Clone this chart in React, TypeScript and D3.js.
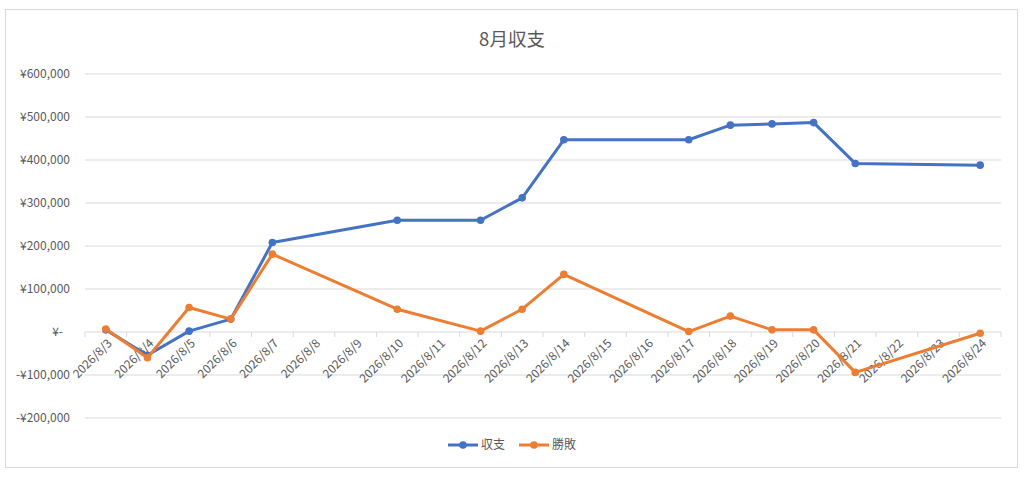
import React from "react";
import * as d3 from "d3";

const categories = [
  "2026/8/3", "2026/8/4", "2026/8/5", "2026/8/6", "2026/8/7", "2026/8/8",
  "2026/8/9", "2026/8/10", "2026/8/11", "2026/8/12", "2026/8/13", "2026/8/14",
  "2026/8/15", "2026/8/16", "2026/8/17", "2026/8/18", "2026/8/19", "2026/8/20",
  "2026/8/21", "2026/8/22", "2026/8/23", "2026/8/24",
];

const shushi: (number | null)[] = [
  5000, -54000, 2000, 30000, 208000, null, null, 260000, null, 260000, 312000, 447000,
  null, null, 447000, 481000, 484000, 487000, 392000, null, null, 388000,
];

const shohai: (number | null)[] = [
  7000, -60000, 57000, 30000, 181000, null, null, 53000, null, 2000, 53000, 134000,
  null, null, 1000, 37000, 5000, 5000, -94000, null, null, -3000,
];

const yTicks = [-200000, -100000, 0, 100000, 200000, 300000, 400000, 500000, 600000];

const seriesNames = ["収支", "勝敗"];
const colors = ["#4472C4", "#ED7D31"];

const W = 1024;
const H = 479;
const FONT = "'Noto Sans CJK JP', 'Noto Sans', sans-serif";
const TXT = "#595959";

function fmtYen(v: number): string {
  if (v === 0) return "¥-";
  const s = d3.format(",")(Math.abs(v));
  return (v < 0 ? "-¥" : "¥") + s;
}

export default function App() {
  const left = 85;
  const right = 1001;
  const x = d3.scalePoint<string>().domain(categories).range([left, right]).padding(0.5);
  const y = d3.scaleLinear().domain([-200000, 600000]).range([418, 74]);
  const step = x.step();

  const line = d3
    .line<{ c: string; v: number }>()
    .x((d) => x(d.c)!)
    .y((d) => y(d.v));

  const allSeries = [shushi, shohai].map((arr) =>
    arr
      .map((v, i) => ({ c: categories[i], v }))
      .filter((d) => d.v !== null) as { c: string; v: number }[]
  );

  const boundaries = d3.range(categories.length + 1).map((i) => left + i * step);

  return (
    <svg
      width={W}
      height={H}
      style={{ position: "absolute", left: 0, top: 0, background: "#fff" }}
      fontFamily={FONT}
    >
      <rect x={0} y={0} width={W} height={H} fill="#fff" />
      <rect x={5.5} y={9.5} width={1012} height={458} fill="#fff" stroke="#d9d9d9" strokeWidth={1} />
      <text x={512} y={46} textAnchor="middle" fontSize={18.5} fill={TXT}>
        8月収支
      </text>

      {yTicks.map((t) => (
        <g key={t}>
          <line x1={left} x2={right} y1={y(t)} y2={y(t)} stroke="#d9d9d9" strokeWidth={1} />
          <text
            x={t === 0 ? 63 : 70}
            y={y(t)}
            dy="0.35em"
            textAnchor="end"
            fontSize={12}
            fill={TXT}
          >
            {fmtYen(t)}
          </text>
        </g>
      ))}

      {boundaries.map((bx, i) => (
        <line key={i} x1={bx} x2={bx} y1={y(0)} y2={y(0) + 5} stroke="#d9d9d9" strokeWidth={1} />
      ))}

      {categories.map((c) => (
        <text
          key={c}
          transform={`translate(${x(c)! + 4},${y(0) + 9}) rotate(-45)`}
          textAnchor="end"
          dy="0.35em"
          fontSize={12}
          fill={TXT}
        >
          {c}
        </text>
      ))}

      {allSeries.map((s, i) => (
        <g key={i}>
          <path
            d={line(s) || ""}
            fill="none"
            stroke={colors[i]}
            strokeWidth={3}
            strokeLinejoin="round"
            strokeLinecap="round"
          />
          {s.map((d) => (
            <circle key={d.c} cx={x(d.c)} cy={y(d.v)} r={3.8} fill={colors[i]} />
          ))}
        </g>
      ))}

      {seriesNames.map((n, i) => {
        const lx = 448 + i * 71;
        return (
          <g key={n}>
            <line x1={lx} x2={lx + 30} y1={445} y2={445} stroke={colors[i]} strokeWidth={3} />
            <circle cx={lx + 15} cy={445} r={3.8} fill={colors[i]} />
            <text x={lx + 33} y={445} dy="0.35em" fontSize={12} fill={TXT}>
              {n}
            </text>
          </g>
        );
      })}
    </svg>
  );
}
